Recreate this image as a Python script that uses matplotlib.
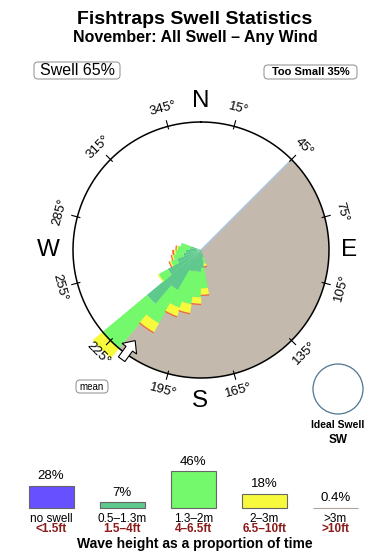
import numpy as np
import matplotlib
matplotlib.use('Agg')
import matplotlib.pyplot as plt
from matplotlib.patches import FancyBboxPatch, Circle, Polygon

plt.rcParams['font.family'] = ['Liberation Sans', 'DejaVu Sans']

# ---------------- data ----------------
directions = [165, 175, 185, 195, 205, 215, 225, 235, 245, 255, 265, 275, 285]
# radial lengths (circle radius = 10) of each height class per direction
seg_05_13 = [0.6, 1.4, 1.7, 1.7, 1.8, 3.6, 5.5, 3.0, 2.0, 1.4, 1.2, 0.9, 0.8]
seg_13_2  = [0.5, 1.6, 2.0, 2.6, 3.0, 3.0, 4.5, 0.8, 0.5, 0.8, 0.8, 0.9, 0.8]
seg_2_3   = [0.2, 0.5, 0.5, 0.7, 0.7, 0.8, 1.0, 0.1, 0.1, 0.1, 0.1, 0.1, 0.0]
seg_3p    = [0.1, 0.1, 0.1, 0.1, 0.1, 0.1, 0.0, 0.0, 0.1, 0.1, 0.15, 0.1, 0.0]

shadow_start, shadow_end = 45, 220
mean_dir = 216
tick_degs = [15, 45, 75, 105, 135, 165, 195, 225, 255, 285, 315, 345]

legend_pct = [28, 7, 46, 18, 0.4]
legend_pct_labels = ['28%', '7%', '46%', '18%', '0.4%']
legend_m = ['no swell', '0.5–1.3m', '1.3–2m', '2–3m', '>3m']
legend_ft = ['<1.5ft', '1.5–4ft', '4–6.5ft', '6.5–10ft', '>10ft']
legend_colors = ['#6650ff', '#5ec98c', '#74f86c', '#f7fa3c', '#f4693a']
legend_edges = ['#666666', '#666666', '#666666', '#666666', '#b0a49a']

seg_colors = ['#5ec98c', '#74f86c', '#f7fa3c', '#f4693a']

# ---------------- figure ----------------
W, H = 390, 560
fig = plt.figure(figsize=(W / 100, H / 100), dpi=100)
ov = fig.add_axes([0, 0, 1, 1])
ov.set_xlim(0, W)
ov.set_ylim(H, 0)
ov.axis('off')
ov.set_zorder(3)

cx, cy, R = 201, 250, 128
AXR = 165
pax = fig.add_axes([(cx - AXR) / W, (H - cy - AXR) / H, 2 * AXR / W, 2 * AXR / H],
                   projection='polar')
pax.set_theta_zero_location('N')
pax.set_theta_direction(-1)
pax.set_ylim(0, 10 * AXR / R)
pax.axis('off')
pax.set_zorder(1)

# shadow wedge
mid = np.deg2rad((shadow_start + shadow_end) / 2)
pax.bar(mid, 10, width=np.deg2rad(shadow_end - shadow_start), bottom=0,
        color='#c3b9ad', linewidth=0, zorder=1)
pax.plot([np.deg2rad(shadow_start)] * 2, [0, 10], color='#a6c8e8', lw=1, zorder=2)

# stacked bars
th = np.deg2rad(directions)
bottom = np.zeros(len(directions))
for seg, col in zip([seg_05_13, seg_13_2, seg_2_3, seg_3p], seg_colors):
    seg = np.array(seg)
    pax.bar(th, seg, width=np.deg2rad(10.5), bottom=bottom, color=col,
            linewidth=0, zorder=3)
    bottom += seg

# circle
tt = np.linspace(0, 2 * np.pi, 500)
pax.plot(tt, np.full_like(tt, 10), color='k', lw=1.1, zorder=5)

# ticks and labels
for d in tick_degs:
    t = np.deg2rad(d)
    pax.plot([t, t], [9.8, 10.45], color='k', lw=0.8, zorder=5)
    rot = ((-d + 90) % 180) - 90
    pax.text(t, 11.4, f'{d}°', rotation=rot, rotation_mode='anchor',
             ha='center', va='center', fontsize=9.5, zorder=6)

# compass letters
for s, (x, y) in zip(['N', 'S', 'W', 'E'], [(201, 101), (200, 401), (48, 250), (349, 250)]):
    ov.text(x, y, s, fontsize=17.5, ha='center', va='center')

# mean arrow (pointing inward)
a = np.deg2rad(mean_dir)
ur = np.array([np.sin(a), -np.cos(a)])      # outward in pixel coords (y down)
vt = np.array([np.cos(a), np.sin(a)])
local = [(112, 0), (122, 9), (122, 4), (135, 4), (135, -4), (122, -4), (122, -9)]
pts = [np.array([cx, cy]) + r * ur + v * vt for r, v in local]
ov.add_patch(Polygon(pts, closed=True, fc='white', ec='black', lw=0.8, zorder=4))

# titles
ov.text(195, 20, 'Fishtraps Swell Statistics', fontsize=14, fontweight='bold',
        ha='center', va='center')
ov.text(195, 37.5, 'November: All Swell – Any Wind', fontsize=11.5, fontweight='bold',
        ha='center', va='center')

# boxes
def rbox(x0, y0, w, h):
    ov.add_patch(FancyBboxPatch((x0, y0), w, h,
                                boxstyle='round,pad=0,rounding_size=4',
                                fc='white', ec='#9a9a9a', lw=0.8))

rbox(34, 62, 86, 17)
ov.text(77, 70.5, 'Swell 65%', fontsize=11.5, ha='center', va='center')
rbox(264, 65, 93, 14)
ov.text(310.5, 72, 'Too Small 35%', fontsize=8, fontweight='bold', ha='center', va='center')
rbox(76, 380, 32, 13)
ov.text(92, 386.5, 'mean', fontsize=7, ha='center', va='center')

# ideal swell
ov.add_patch(Circle((338, 389), 25, fc='none', ec='#4f7591', lw=0.9))
ov.text(338, 425, 'Ideal Swell', fontsize=7.5, fontweight='bold', ha='center', va='center')
ov.text(338, 440, 'SW', fontsize=8.5, fontweight='bold', ha='center', va='center')

# legend bars
lax = fig.add_axes([0, (H - 508) / H, 1, 68 / H])
lax.set_xlim(0, W)
lax.set_ylim(0, 85)
lax.axis('off')
xc = [51, 122, 193.5, 264.5, 335.5]
lax.bar(xc, legend_pct, width=45, color=legend_colors, edgecolor=legend_edges,
        linewidth=0.8, clip_on=False)
for x, v, lab in zip(xc, legend_pct, legend_pct_labels):
    lax.text(x, v + 12, lab, fontsize=9.5, ha='center', va='center')
for x, m, f in zip(xc, legend_m, legend_ft):
    ov.text(x, 518.5, m, fontsize=8.5, ha='center', va='center')
    ov.text(x, 529.5, f, fontsize=8.5, fontweight='bold', color='#8b1a1a',
            ha='center', va='center')
ov.text(195, 544, 'Wave height as a proportion of time', fontsize=10, fontweight='bold',
        ha='center', va='center')

fig.savefig('out.png', dpi=100)
